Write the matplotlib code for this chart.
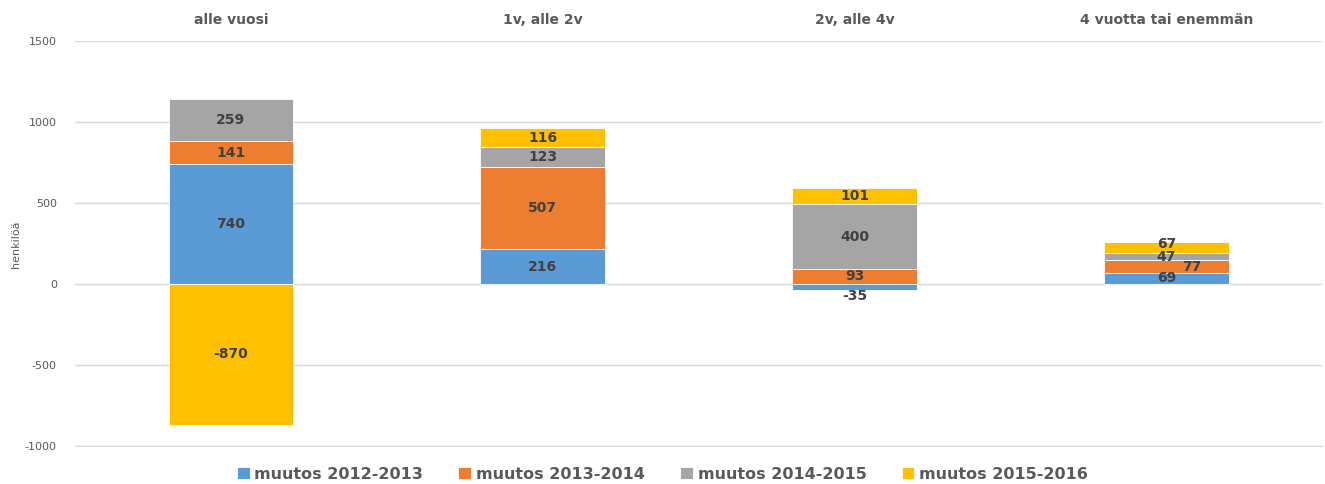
import numpy as np
import matplotlib.pyplot as plt

categories = ["alle vuosi", "1v, alle 2v", "2v, alle 4v", "4 vuotta tai enemmän"]
series_names = ["muutos 2012-2013", "muutos 2013-2014", "muutos 2014-2015", "muutos 2015-2016"]
v_2012_2013 = [740, 216, -35, 69]
v_2013_2014 = [141, 507, 93, 77]
v_2014_2015 = [259, 123, 400, 47]
v_2015_2016 = [-870, 116, 101, 67]
colors = ["#5B9BD5", "#ED7D31", "#A5A5A5", "#FFC000"]

series = [v_2012_2013, v_2013_2014, v_2014_2015, v_2015_2016]

plt.rcParams["axes.unicode_minus"] = False

fig = plt.figure(figsize=(13.25, 4.84), dpi=100)
ax = fig.add_axes([0.0566, 0.0785, 0.9414, 0.8368])

x = np.arange(len(categories))
pos_bottom = np.zeros(len(categories))
neg_bottom = np.zeros(len(categories))
text_col = "#404040"

# label nudges (in data units) to mimic the overlapping-label layout
nudge = {(3, 1): (0.08, 0), (3, 3): (0, 20), (2, 0): (0, -55)}

for i, vals in enumerate(series):
    vals = np.array(vals, dtype=float)
    bottom = np.where(vals >= 0, pos_bottom, neg_bottom)
    ax.bar(x, vals, 0.4, bottom=bottom, color=colors[i], label=series_names[i],
           edgecolor="white", linewidth=0.6, zorder=2)
    for j, v in enumerate(vals):
        dx, dy = nudge.get((j, i), (0, 0))
        ax.text(x[j] + dx, bottom[j] + v / 2 + dy, "%d" % v, ha="center", va="center",
                fontsize=10, fontweight="bold", color=text_col, zorder=3)
    pos_bottom = np.where(vals >= 0, pos_bottom + vals, pos_bottom)
    neg_bottom = np.where(vals < 0, neg_bottom + vals, neg_bottom)

ax.set_xlim(-0.5, 3.5)
ax.set_ylim(-1000, 1500)
ax.set_yticks(np.arange(-1000, 1501, 500))
ax.yaxis.grid(True, color="#D9D9D9", linewidth=1, zorder=0)
ax.set_axisbelow(True)
ax.tick_params(axis="y", length=0, labelsize=8, labelcolor="#595959", pad=13)

ax.xaxis.tick_top()
ax.set_xticks(x)
ax.set_xticklabels(categories, fontsize=10, fontweight="bold", color="#595959")
ax.tick_params(axis="x", length=0, pad=10)

for s in ["top", "right", "left"]:
    ax.spines[s].set_visible(False)
ax.spines["bottom"].set_color("#D9D9D9")

fig.text(0.012, 0.495, "henkilöä", rotation=90, fontsize=8, color="#595959",
         ha="center", va="center")

fig.legend(loc="lower center", bbox_to_anchor=(0.5, -0.025), ncol=4, frameon=False,
           handlelength=0.8, handleheight=0.8, handletextpad=0.3, columnspacing=2.2,
           prop={"size": 11.5, "weight": "bold"}, labelcolor="#595959")

fig.savefig("out.png", dpi=100)
